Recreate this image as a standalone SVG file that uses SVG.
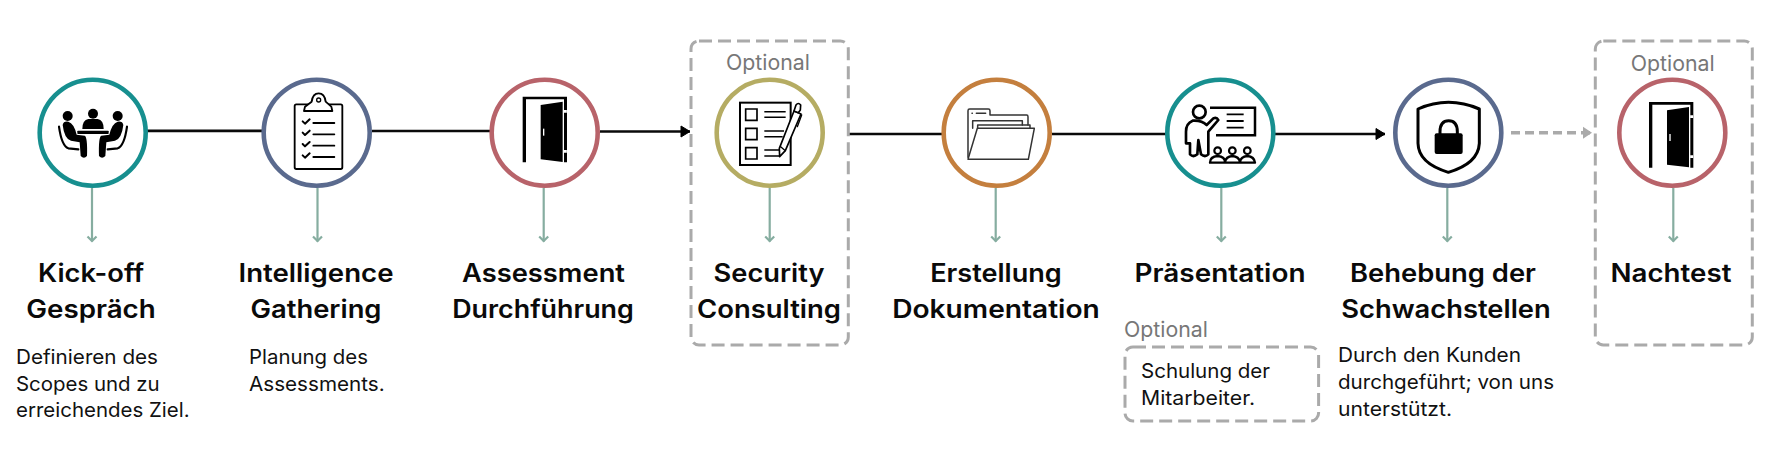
<svg xmlns="http://www.w3.org/2000/svg" width="1779" height="457" viewBox="0 0 1779 457">
<style>
text{font-family:"Inter","Noto Sans","Liberation Sans",sans-serif}
.t{font-size:25px;font-weight:600;fill:#0a0a0a;text-anchor:middle}
.b{font-size:20px;font-weight:400;fill:#111}
.o{font-size:21px;font-weight:400;fill:#777}
.c{fill:#fff;stroke-width:4.6}
.fr{fill:none;stroke:#aaa;stroke-width:3;stroke-dasharray:13 6}
.main{fill:none;stroke:#0a0a0a;stroke-width:2.6}
.drop{fill:none;stroke:#86ada0;stroke-width:2.2;marker-end:url(#vee)}
.k{fill:none;stroke:#000;stroke-linecap:round;stroke-linejoin:round}
.f{fill:#000;stroke:none}
</style>
<defs>
<marker id="tri" markerUnits="userSpaceOnUse" markerWidth="12" markerHeight="14" refX="10" refY="7" orient="auto"><path d="M1 1.500L10 7L1 12.500Z" fill="#000" stroke="#000" stroke-width="1" stroke-linejoin="round"/></marker>
<marker id="trig" markerUnits="userSpaceOnUse" markerWidth="12" markerHeight="14" refX="10" refY="7" orient="auto"><path d="M1 1L10 7L1 13Z" fill="#aaa"/></marker>
<marker id="vee" markerUnits="userSpaceOnUse" markerWidth="12" markerHeight="14" refX="10" refY="7" orient="auto"><path d="M5 2.500L9.500 7L5 11.500" fill="none" stroke="#86ada0" stroke-width="2.200"/></marker>
<g id="door">
<path class="f" d="M248 200H381V397H372V208H258V397H248Z"/>
<path class="f" d="M302 225L368 215V396L302 388Z"/>
<path d="M376 240V248M376 360V368" stroke="#fff" stroke-width="9" fill="none"/>
<path d="M311 296V317" stroke="#fff" stroke-width="4" fill="none"/>
</g>
</defs>

<g id="connectors">
<path d="M147 130H262" stroke="#aaa" stroke-width="2" fill="none"/>
<path class="main" d="M147 131H264M372 131H491"/>
<path class="main" d="M600 131.500H690" marker-end="url(#tri)"/>
<path class="main" d="M849 134H943M1052 134H1166M1275 134H1385" marker-end="url(#tri)"/>
<path d="M1511 132.700H1592" fill="none" stroke="#aaa" stroke-width="3.500" stroke-dasharray="9 5" marker-end="url(#trig)"/>
<path class="drop" d="M92 188V241.500"/>
<path class="drop" d="M317.500 188V241.500"/>
<path class="drop" d="M543.700 188V241.500"/>
<path class="drop" d="M769.700 188V241.500"/>
<path class="drop" d="M995.700 188V241.500"/>
<path class="drop" d="M1221.300 188V241.500"/>
<path class="drop" d="M1447.300 188V241.500"/>
<path class="drop" d="M1673.300 188V241.500"/>
</g>

<g id="step1">
<circle class="c" cx="92.700" cy="132.700" r="53" stroke="#178f8f"/>
<g transform="translate(0,60) scale(.33333)">
<circle class="f" cx="203" cy="168" r="15"/><circle class="f" cx="279" cy="161" r="15"/><circle class="f" cx="353" cy="168" r="15"/>
<path class="f" d="M247 207Q247 180 265 177H293Q311 180 311 207Z"/>
<rect class="f" x="232" y="212" width="94" height="10" rx="2"/>
<path class="f" d="M188 195Q190 183 205 185Q222 190 230 224L254 227Q263 231 261 288Q252 298 242 288L239 247L213 242Q193 237 188 195Z"/>
<path class="f" d="M370 195Q368 183 353 185Q336 190 328 224L304 227Q295 231 297 288Q306 298 316 288L319 247L345 242Q365 237 370 195Z"/>
<path class="k" stroke-width="6.500" d="M177 200Q185 258 205 265L235 268M381 200Q373 258 353 265L323 268"/>
</g>
<text class="t" x="91" y="282" textLength="106" lengthAdjust="spacingAndGlyphs">Kick-off</text>
<text class="t" x="91" y="317.700" textLength="129.500" lengthAdjust="spacingAndGlyphs">Gespräch</text>
<text class="b" x="16" y="364" textLength="142" lengthAdjust="spacingAndGlyphs">Definieren des</text>
<text class="b" x="16" y="391" textLength="143.700" lengthAdjust="spacingAndGlyphs">Scopes und zu</text>
<text class="b" x="16" y="417" textLength="173.600" lengthAdjust="spacingAndGlyphs">erreichendes Ziel.</text>
</g>

<g id="step2">
<circle class="c" cx="316.700" cy="132.700" r="53" stroke="#5a6a8e"/>
<g transform="translate(0,60) scale(.33333)">
<rect class="k" x="884" y="133" width="143" height="194" rx="5" stroke-width="5.500"/>
<path class="k" style="fill:#fff" stroke-width="5.500" d="M912 153L915 140L935 125Q938 100 956 100Q974 100 977 125L994 140L997 153Z"/>
<circle class="k" cx="956" cy="120" r="6" stroke-width="4"/>
<path class="k" stroke-width="6" d="M908 184L915 191L929 178M908 218L915 225L929 212M908 252L915 259L929 246M908 286L915 293L929 280"/>
<path class="k" stroke-width="5.500" d="M940 189H1003M940 223H1003M940 257H1003M940 291H1003"/>
</g>
<text class="t" x="316" y="282" textLength="155" lengthAdjust="spacingAndGlyphs">Intelligence</text>
<text class="t" x="316" y="317.700" textLength="131" lengthAdjust="spacingAndGlyphs">Gathering</text>
<text class="b" x="249" y="364" textLength="119" lengthAdjust="spacingAndGlyphs">Planung des</text>
<text class="b" x="249" y="391" textLength="135.700" lengthAdjust="spacingAndGlyphs">Assessments.</text>
</g>

<g id="step3">
<circle class="c" cx="544.700" cy="132.700" r="53" stroke="#b8636a"/>
<g transform="translate(440,30) scale(.33333)"><use href="#door"/></g>
<text class="t" x="543.500" y="282" textLength="163" lengthAdjust="spacingAndGlyphs">Assessment</text>
<text class="t" x="543" y="317.700" textLength="181.700" lengthAdjust="spacingAndGlyphs">Durchführung</text>
</g>

<g id="step4">
<rect class="fr" x="691" y="41" width="157.300" height="304" rx="8"/>
<text class="o" x="768" y="70" text-anchor="middle" textLength="84" lengthAdjust="spacingAndGlyphs">Optional</text>
<circle class="c" cx="769.700" cy="132.700" r="53" stroke="#b5ac63"/>
<g transform="translate(440,30) scale(.33333)">
<rect class="k" style="stroke-linejoin:miter" x="900" y="218" width="152" height="187" stroke-width="6"/>
<path class="k" stroke-width="5" style="stroke-linejoin:miter" d="M917 237h34v34h-34zM917 295h34v34h-34zM917 353h34v34h-34z"/>
<path class="k" stroke-width="4.500" style="stroke-linecap:butt" d="M973 245H1037M973 262H1037M973 303H1032M973 320H1028M973 360H1020M973 378H1018"/>
<path class="k" style="fill:#fff" stroke-width="5" d="M1018 355L1062 243L1083 252L1036 362L1019 380Z"/>
<path class="k" style="fill:#fff" stroke-width="5" d="M1062 243L1068 225Q1075 216 1082 225L1081 240L1075 248Z"/>
<path class="k" stroke-width="4" d="M1085 255L1072 290M1022 350L1036 362"/>
</g>
<text class="t" x="769" y="282" textLength="111" lengthAdjust="spacingAndGlyphs">Security</text>
<text class="t" x="769" y="317.700" textLength="144" lengthAdjust="spacingAndGlyphs">Consulting</text>
</g>

<g id="step5">
<circle class="c" cx="996.700" cy="132.700" r="53" stroke="#c47f3e"/>
<g transform="translate(900,60) scale(.33333)">
<g class="k" style="stroke:#333" stroke-width="4.500">
<path d="M204 292V152Q204 147 209 147H265Q270 147 270 152V165H380Q384 165 384 170V195"/>
<path d="M218 205V182H367V195"/>
<path d="M233 205V195H390V205"/>
<path d="M204 298L232 205H403L385 298Z"/>
<path d="M216 160H217M229 160H257"/>
</g>
</g>
<text class="t" x="996" y="282" textLength="131.600" lengthAdjust="spacingAndGlyphs">Erstellung</text>
<text class="t" x="996" y="317.700" textLength="207.600" lengthAdjust="spacingAndGlyphs">Dokumentation</text>
</g>

<g id="step6">
<circle class="c" cx="1220.300" cy="132.700" r="53" stroke="#178f8f"/>
<g transform="translate(900,60) scale(.33333)">
<path class="k" stroke-width="7.500" style="stroke-linecap:butt;stroke-linejoin:miter" d="M930 143H1065V226H948"/>
<path class="k" stroke-width="5.500" style="stroke-linecap:butt" d="M980 163H1031M980 183H1031M980 203H1031"/>
<circle class="k" cx="898" cy="156" r="19" stroke-width="8"/>
<path class="k" style="fill:#fff" stroke-width="8" d="M878 182Q858 190 858 215V250H870V283Q880 293 892 283L895 240L903 283Q915 293 925 283V215L955 180Q950 170 940 175L920 195Q905 180 878 182Z"/>
<circle class="k" cx="953" cy="272" r="10" stroke-width="6.500"/><circle class="k" cx="997" cy="272" r="10" stroke-width="6.500"/><circle class="k" cx="1042" cy="272" r="10" stroke-width="6.500"/>
<path class="k" stroke-width="7" d="M930 308Q930 290 953 288Q975 290 975 306Q978 290 997 288Q1017 290 1020 306Q1022 290 1042 288Q1063 290 1065 308Z"/>
</g>
<text class="t" x="1220" y="282" textLength="171" lengthAdjust="spacingAndGlyphs">Präsentation</text>
<text class="o" x="1124" y="337" textLength="84" lengthAdjust="spacingAndGlyphs">Optional</text>
<rect class="fr" x="1125" y="347" width="193.600" height="74" rx="8"/>
<text class="b" x="1141" y="378" textLength="129" lengthAdjust="spacingAndGlyphs">Schulung der</text>
<text class="b" x="1141" y="405" textLength="114" lengthAdjust="spacingAndGlyphs">Mitarbeiter.</text>
</g>

<g id="step7">
<circle class="c" cx="1448.300" cy="132.700" r="53" stroke="#5a6a8e"/>
<g transform="translate(1340,30) scale(.33333)">
<path class="k" stroke-width="9" d="M234 237Q325 197 418 237V340Q415 400 325 427Q235 400 234 340Z"/>
<rect class="f" x="284" y="310" width="84" height="62" rx="6"/>
<path class="k" stroke-width="9" d="M300 315V305Q300 272 326 272Q352 272 352 305V315"/>
</g>
<text class="t" x="1443" y="282" textLength="186" lengthAdjust="spacingAndGlyphs">Behebung der</text>
<text class="t" x="1446" y="318" textLength="209.500" lengthAdjust="spacingAndGlyphs">Schwachstellen</text>
<text class="b" x="1338" y="361.700" textLength="183" lengthAdjust="spacingAndGlyphs">Durch den Kunden</text>
<text class="b" x="1338" y="388.500" textLength="216" lengthAdjust="spacingAndGlyphs">durchgeführt; von uns</text>
<text class="b" x="1338" y="415.700" textLength="114" lengthAdjust="spacingAndGlyphs">unterstützt.</text>
</g>

<g id="step8">
<rect class="fr" x="1595.300" y="41" width="157" height="304" rx="8"/>
<text class="o" x="1672.700" y="71" text-anchor="middle" textLength="84" lengthAdjust="spacingAndGlyphs">Optional</text>
<circle class="c" cx="1672.300" cy="132.700" r="53" stroke="#b8636a"/>
<g transform="translate(1340,30) scale(.33333) translate(679,16)"><use href="#door"/></g>
<text class="t" x="1671" y="282" textLength="121" lengthAdjust="spacingAndGlyphs">Nachtest</text>
</g>
</svg>
